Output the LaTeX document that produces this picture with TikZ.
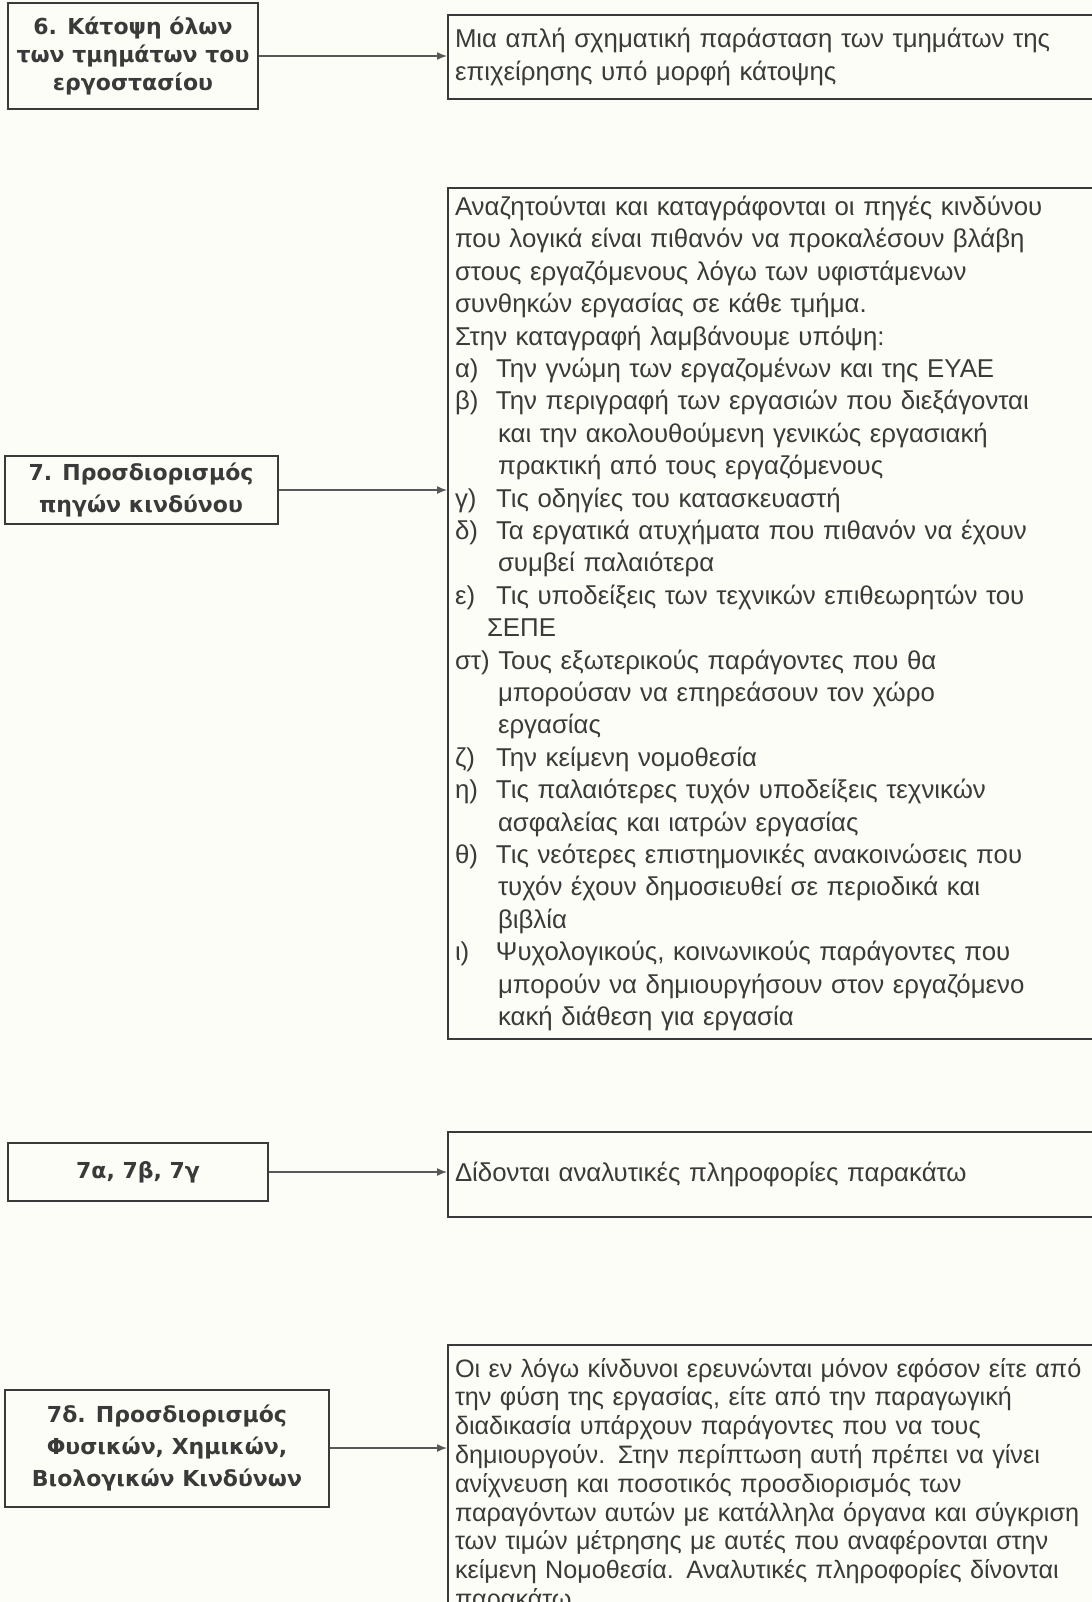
\documentclass[tikz,border=0pt]{standalone}
\usepackage{fontspec}
\setmainfont{Liberation Sans}
\newfontfamily\headfont{DejaVu Sans}
\usetikzlibrary{arrows.meta}
\definecolor{paper}{RGB}{253,253,247}
\definecolor{ink}{RGB}{58,58,58}
\newcommand{\itm}[2]{\makebox[20.5pt][l]{#1}#2}
\newcommand{\cont}{\hspace*{21.5pt}}
\tikzset{
  lbox/.style={draw=ink,line width=1pt,align=center,inner sep=0pt,text=ink,
    font=\headfont\bfseries\fontsize{11}{16}\selectfont},
  rbox/.style={draw=ink,line width=1pt,align=left,anchor=north west,inner xsep=3.5pt,
    text width=324pt,text=ink,font=\fontsize{12.9}{16.2}\selectfont},
  link/.style={draw=ink!85,line width=0.7pt}
}

\begin{document}
\begin{tikzpicture}[x=0.5pt,y=-0.5pt,>={Latex[length=5pt,width=4pt]}]
\useasboundingbox (0,0) rectangle (1092,1602);
\clip (0,0) rectangle (1092,1602);
\fill[paper] (0,0) rectangle (1092,1602);
\node[lbox,minimum width=125pt,minimum height=53pt,
  font=\headfont\bfseries\fontsize{11}{14}\selectfont] (b6) at (133,56) {6. Κάτοψη όλων\\των τμημάτων του\\εργοστασίου};
\node[rbox,minimum height=42pt] (r6) at (447,14) {Μια απλή σχηματική παράσταση των τμημάτων της\\επιχείρησης υπό μορφή κάτοψης};
\node[lbox,minimum width=136.5pt,minimum height=34pt] (b7) at (141,490) {7. Προσδιορισμός\\πηγών κινδύνου};
\node[rbox,minimum height=425.5pt] (r7) at (447,187) {Αναζητούνται και καταγράφονται οι πηγές κινδύνου\\
που λογικά είναι πιθανόν να προκαλέσουν βλάβη\\
στους εργαζόμενους λόγω των υφιστάμενων\\
συνθηκών εργασίας σε κάθε τμήμα.\\
Στην καταγραφή λαμβάνουμε υπόψη:\\
\itm{α)}{Την γνώμη των εργαζομένων και της ΕΥΑΕ}\\
\itm{β)}{Την περιγραφή των εργασιών που διεξάγονται}\\
\cont και την ακολουθούμενη γενικώς εργασιακή\\
\cont πρακτική από τους εργαζόμενους\\
\itm{γ)}{Τις οδηγίες του κατασκευαστή}\\
\itm{δ)}{Τα εργατικά ατυχήματα που πιθανόν να έχουν}\\
\cont συμβεί παλαιότερα\\
\itm{ε)}{Τις υποδείξεις των τεχνικών επιθεωρητών του}\\
\hspace*{16pt}ΣΕΠΕ\\
στ) Τους εξωτερικούς παράγοντες που θα\\
\cont μπορούσαν να επηρεάσουν τον χώρο\\
\cont εργασίας\\
\itm{ζ)}{Την κείμενη νομοθεσία}\\
\itm{η)}{Τις παλαιότερες τυχόν υποδείξεις τεχνικών}\\
\cont ασφαλείας και ιατρών εργασίας\\
\itm{θ)}{Τις νεότερες επιστημονικές ανακοινώσεις που}\\
\cont τυχόν έχουν δημοσιευθεί σε περιοδικά και\\
\cont βιβλία\\
\itm{ι)}{Ψυχολογικούς, κοινωνικούς παράγοντες που}\\
\cont μπορούν να δημιουργήσουν στον εργαζόμενο\\
\cont κακή διάθεση για εργασία};
\node[lbox,minimum width=130pt,minimum height=29pt] (b7abc) at (138,1172) {7α, 7β, 7γ};
\node[rbox,minimum height=42.5pt] (r7abc) at (447,1131) {Δίδονται αναλυτικές πληροφορίες παρακάτω};
\node[lbox,minimum width=162pt,minimum height=58.5pt] (b7d) at (167,1448) {7δ. Προσδιορισμός\\Φυσικών, Χημικών,\\Βιολογικών Κινδύνων};
\node[rbox,inner ysep=6.5pt,font=\fontsize{12.6}{14.4}\selectfont] (r7d) at (447,1344) {Οι εν λόγω κίνδυνοι ερευνώνται μόνον εφόσον είτε από\\
την φύση της εργασίας, είτε από την παραγωγική\\
διαδικασία υπάρχουν παράγοντες που να τους\\
δημιουργούν. Στην περίπτωση αυτή πρέπει να γίνει\\
ανίχνευση και ποσοτικός προσδιορισμός των\\
παραγόντων αυτών με κατάλληλα όργανα και σύγκριση\\
των τιμών μέτρησης με αυτές που αναφέρονται στην\\
κείμενη Νομοθεσία. Αναλυτικές πληροφορίες δίνονται\\
παρακάτω.};
\foreach \a/\b in {b6/r6,b7/r7,b7abc/r7abc,b7d/r7d}
  \draw[->,link] (\a.east) -- (\a.east -| \b.west);
\end{tikzpicture}
\end{document}
